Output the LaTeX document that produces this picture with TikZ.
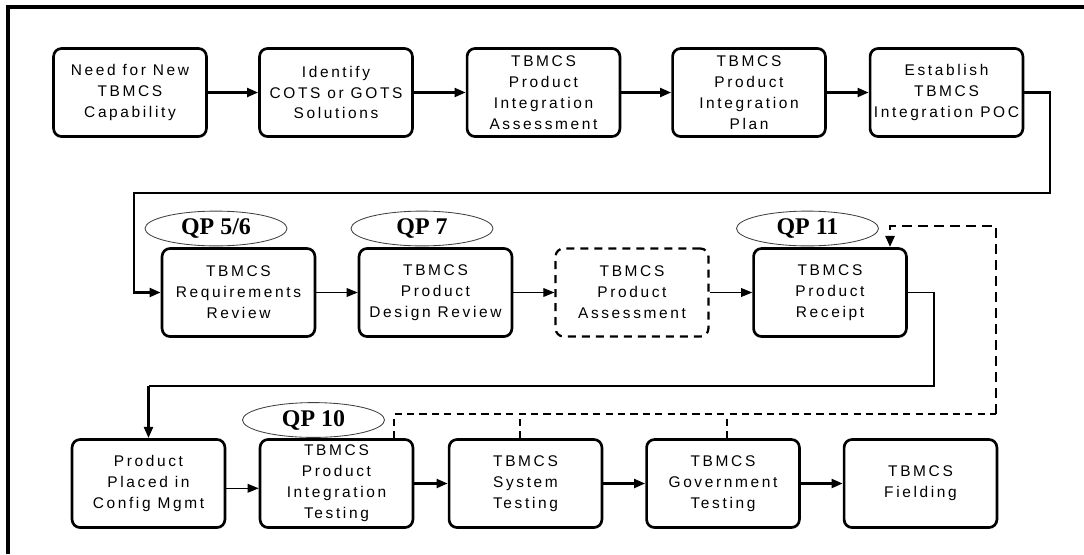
\documentclass[tikz,border=0pt]{standalone}
\usepackage{fontspec}
\usepackage{tikz}
\usetikzlibrary{arrows.meta,shapes.geometric}
\newfontfamily\boxfont{Liberation Sans}[LetterSpace=17]
\newfontfamily\qpfont{Liberation Serif}

\begin{document}
\begin{tikzpicture}[x=0.025cm,y=-0.025cm,
    proc/.style={draw,line width=1.9pt,rounded corners=0.2cm,minimum width=3.82cm,minimum height=2.2cm,inner sep=0pt,align=center,font=\boxfont\fontsize{11}{14.9}\selectfont},
    procdash/.style={proc,line width=1.6pt,dash pattern=on 0.2cm off 0.15cm},
    qp/.style={ellipse,draw=black!75,line width=0.6pt,minimum width=3.55cm,minimum height=0.87cm,inner sep=0pt,font=\qpfont\bfseries\fontsize{17}{17}\selectfont},
    flow/.style={line width=1.9pt,-{Triangle[length=0.28cm,width=0.22cm]}},
    flowthin/.style={line width=0.9pt,-{Triangle[length=0.28cm,width=0.22cm]}},
    dashthin/.style={line width=1.2pt,dash pattern=on 0.18cm off 0.13cm},
    dashthick/.style={line width=2pt,dash pattern=on 0.24cm off 0.16cm,-{Triangle[length=0.28cm,width=0.22cm]}}]
            \useasboundingbox (0,0) rectangle (1084,554);
            % Marco
            \draw[line width=2.2pt] (8,554) -- (8,7) -- (1084,7);
            % Fila 1
            \node[proc] (need) at (130,92.5) {Need for New\\TBMCS\\Capability};
            \node[proc] (ident) at (336,92.5) {Identify\\COTS or GOTS\\Solutions};
            \node[proc] (assess) at (543.5,92.5) {TBMCS\\Product\\Integration\\Assessment};
            \node[proc] (plan) at (749,92.5) {TBMCS\\Product\\Integration\\Plan};
            \node[proc] (poc) at (946.5,92.5) {Establish\\TBMCS\\Integration POC};
            \draw[flow] (need) -- (ident);
            \draw[flow] (ident) -- (assess);
            \draw[flow] (assess) -- (plan);
            \draw[flow] (plan) -- (poc);
            % Fila 2
            \node[qp] (qp56) at (216,228.5) {QP 5/6};
            \node[qp] (qp7) at (422,228.5) {QP 7};
            \node[qp] (qp11) at (807.5,228.5) {QP 11};
            \node[proc] (reqrev) at (238.5,292.5) {TBMCS\\Requirements\\Review};
            \node[proc] (desrev) at (435.5,292.5) {TBMCS\\Product\\Design Review};
            \node[procdash] (prodassess) at (632,292.5) {TBMCS\\Product\\Assessment};
            \node[proc] (receipt) at (830,292.5) {TBMCS\\Product\\Receipt};
            \coordinate (turn1) at (1050,193);
            \coordinate (turn2) at (134,193);
            \draw[flow] (poc.east) -| (turn1) -- (turn2) |- (reqrev.west);
            \draw[flowthin] (reqrev) -- (desrev);
            \draw[flowthin] (desrev) -- (prodassess);
            \draw[flowthin] (prodassess) -- (receipt);
            % Fila 3
            \node[qp] (qp10) at (313.5,420) {QP 10};
            \node[proc] (config) at (148.5,483.5) {Product\\Placed in\\Config Mgmt};
            \node[proc] (inttest) at (336.5,483.5) {TBMCS\\Product\\Integration\\Testing};
            \node[proc] (systest) at (525.5,483.5) {TBMCS\\System\\Testing};
            \node[proc] (govtest) at (723,483.5) {TBMCS\\Government\\Testing};
            \node[proc] (field) at (920.5,483.5) {TBMCS\\Fielding};
            \coordinate (turn3) at (934,386);
            \draw[line width=0.9pt] (receipt.east) -| (turn3) -- (config.north |- turn3);
            \draw[flow] (config.north |- turn3) -- (config.north);
            \draw[flowthin] ([yshift=-0.12cm]config.east) -- ([yshift=-0.12cm]inttest.west);
            \draw[flow] (inttest) -- (systest);
            \draw[flow] (systest) -- (govtest);
            \draw[flow] (govtest) -- (field);
            % Retorno punteado
            \coordinate (stub1) at (394,414);
            \coordinate (stub2) at (520,414);
            \coordinate (stub3) at (727,414);
            \coordinate (back1) at (996,414);
            \coordinate (back2) at (996,226);
            \draw[dashthin] (stub1 |- inttest.north) -- (stub1) -- (back1);
            \draw[dashthin] (stub2 |- systest.north) -- (stub2);
            \draw[dashthin] (stub3 |- govtest.north) -- (stub3);
            \draw[dashthick] (back1) -- (back2) -| ([xshift=1.5cm]receipt.north);
        \end{tikzpicture}
\end{document}
